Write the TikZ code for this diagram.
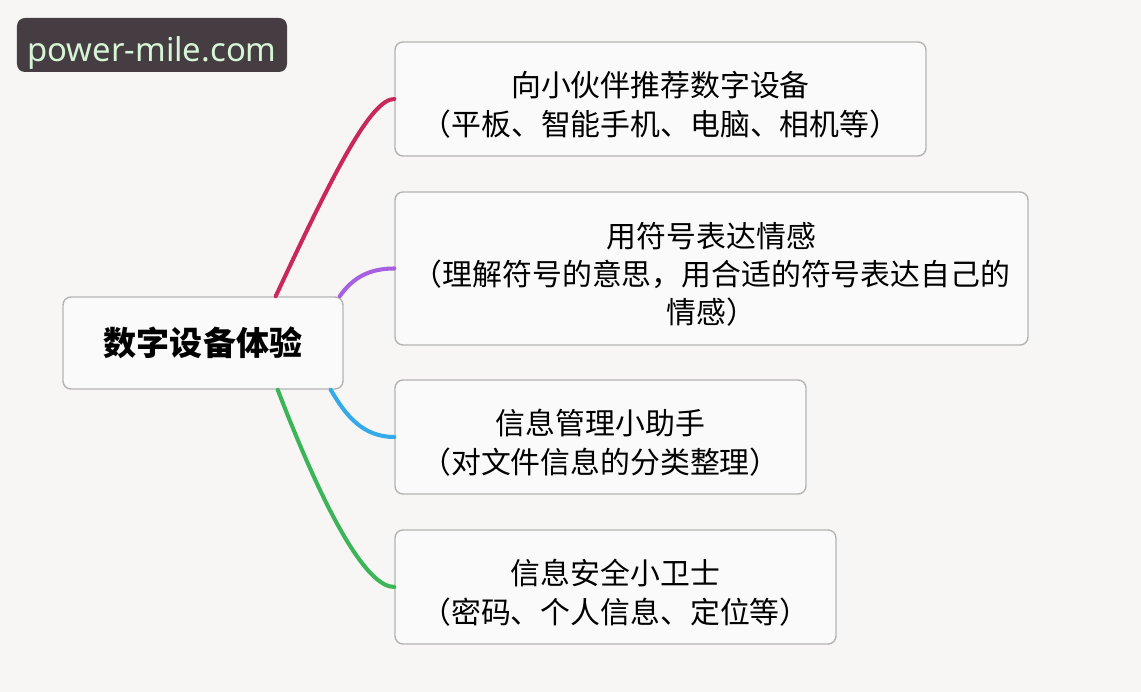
\documentclass[tikz,border=0pt]{standalone}
\usepackage{fontspec}
\setmainfont{Noto Sans CJK SC}
\newfontfamily\latinsans{Noto Sans}
\usepackage{xcolor}
\usepackage{tikz}
\usetikzlibrary{calc}
\definecolor{fondGris}{RGB}{247,246,245}
\definecolor{fondBoite}{RGB}{250,250,250}
\definecolor{bordGris}{RGB}{180,180,180}
\definecolor{fondMarque}{RGB}{70,61,66}
\definecolor{texteMarque}{RGB}{214,245,214}
\definecolor{rougeBranche}{RGB}{200,40,90}
\definecolor{violetBranche}{RGB}{168,96,226}
\definecolor{bleuBranche}{RGB}{52,170,232}
\definecolor{vertBranche}{RGB}{60,180,88}
\newcommand\ligneHaute{\rule{0pt}{21pt}}

\begin{document}
\begin{tikzpicture}[
    boite/.style={draw=bordGris,line width=0.8pt,fill=fondBoite,rounded corners=0.16cm,
                  align=center,inner sep=0pt,
                  font=\fontsize{17}{22.7}\selectfont},
    branche/.style={line width=2.3pt,line cap=round}]
  % Fond
  \fill[fondGris] (0,0) rectangle (22.82,-13.84);
  \useasboundingbox (0,0) rectangle (22.82,-13.84);

  % Filigrane
  \node[fill=fondMarque,rounded corners=0.16cm,minimum width=5.4cm,minimum height=1.08cm,
        inner sep=0pt,text height=24.5pt,text depth=5.5pt,text=texteMarque,
        font=\latinsans\fontsize{18.7}{20}\selectfont]
    (marque) at (3.04,-0.9) {power-mile.com};

  % Noeud central
  \node[draw=bordGris,line width=0.8pt,fill=fondBoite,rounded corners=0.16cm,
        minimum width=5.6cm,minimum height=1.84cm,inner sep=0pt,
        font=\bfseries\fontsize{18.8}{22}\selectfont] (racine) at (4.06,-6.86) {数字设备体验};

  % Branches
  \node[boite,minimum width=10.62cm,minimum height=2.28cm] (appareils) at (13.21,-1.98)
    {\ligneHaute 向小伙伴推荐数字设备\\（平板、智能手机、电脑、相机等）};
  \node[boite,minimum width=12.66cm,minimum height=3.06cm,
        font=\fontsize{17}{21.6}\selectfont] (symboles) at (14.23,-5.37)
    {\ligneHaute 用符号表达情感\\（理解符号的意思，用合适的符号表达自己的\\情感）};
  \node[boite,minimum width=8.22cm,minimum height=2.28cm] (gestion) at (12.01,-8.74)
    {\ligneHaute 信息管理小助手\\（对文件信息的分类整理）};
  \node[boite,minimum width=8.82cm,minimum height=2.28cm] (securite) at (12.31,-11.74)
    {\ligneHaute 信息安全小卫士\\（密码、个人信息、定位等）};

  % Liens
  \draw[branche,rougeBranche] ([xshift=-1.36cm]racine.north east)
    to[out=65,in=180,out looseness=1.6,in looseness=0.25] (appareils.west);
  \draw[branche,violetBranche] ([xshift=-0.08cm]racine.north east)
    to[out=55,in=180] (symboles.west);
  \draw[branche,bleuBranche] ([xshift=-0.26cm]racine.south east)
    to[out=-60,in=180] (gestion.west);
  \draw[branche,vertBranche] ([xshift=-1.32cm]racine.south east)
    to[out=-69,in=180,out looseness=1.55,in looseness=0.3] (securite.west);
\end{tikzpicture}
\end{document}
